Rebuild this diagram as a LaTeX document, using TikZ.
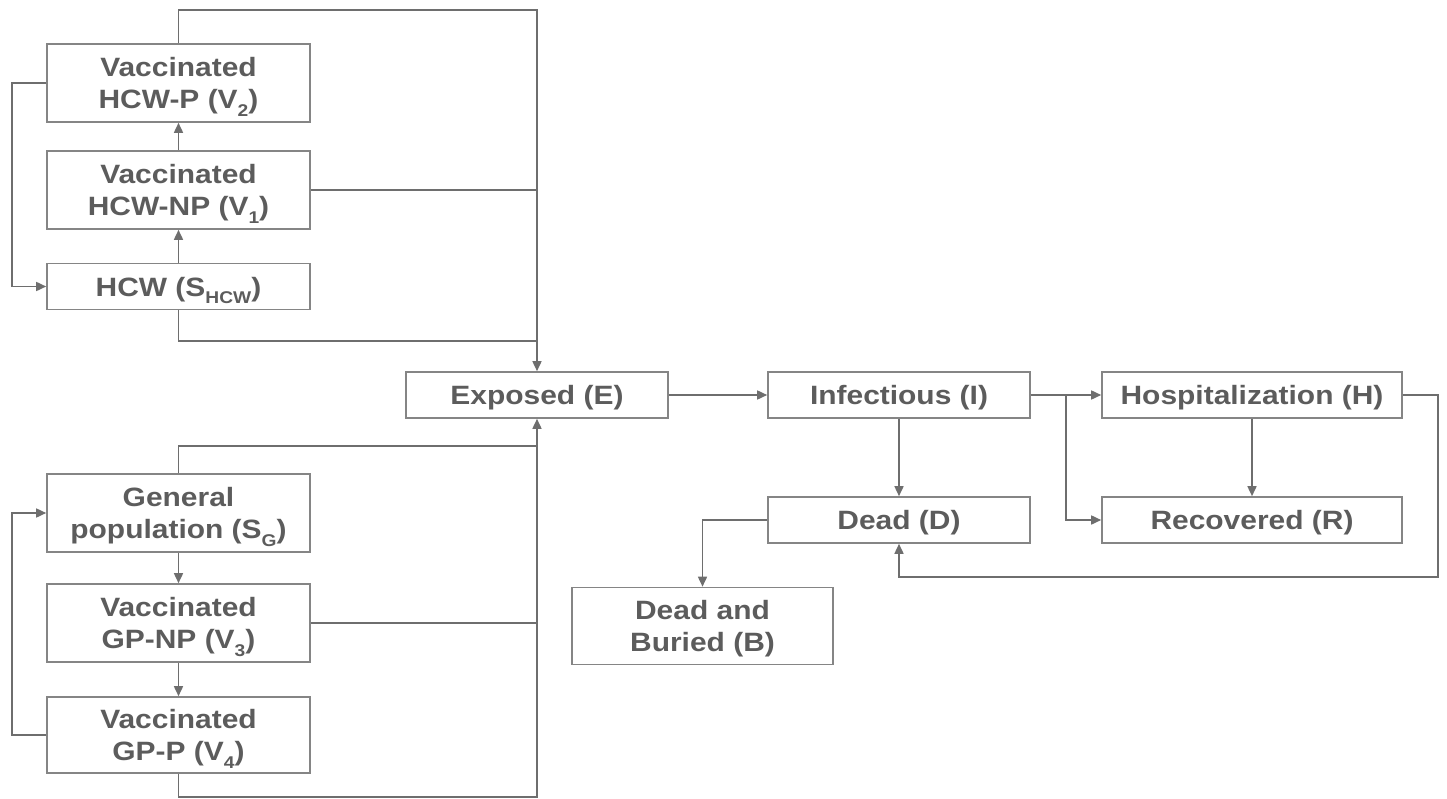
\documentclass[tikz,border=0pt]{standalone}
\usepackage{fontspec}
\setmainfont{Liberation Sans}[FakeStretch=1.13]
\usetikzlibrary{arrows.meta}
\definecolor{ln}{HTML}{6E6E6E}
\definecolor{bx}{HTML}{858585}
\definecolor{tx}{HTML}{5C5C5C}
\newcommand\sbs[1]{\raisebox{-0.28em}{\fontsize{17}{17}\selectfont #1}}
\begin{document}
\begin{tikzpicture}[x=1pt,y=-1pt,
  box/.style={draw=bx,line width=1.6pt,rectangle,inner sep=0pt,align=center,
    text depth=0pt,text=tx,font=\fontsize{26.5}{32}\selectfont\bfseries},
  wbox/.style={box,minimum width=263pt},
  conn/.style={draw=ln,line width=1.6pt},
  arr/.style={conn,-{Triangle[length=10pt,width=9pt]}}]
\useasboundingbox (0,0) rectangle (1447,799);
% left top group
\node[wbox,minimum height=78pt] (V2) at (178.5,83) {Vaccinated\\HCW-P (V\sbs{2})};
\node[wbox,minimum height=78pt] (V1) at (178.5,190) {Vaccinated\\HCW-NP (V\sbs{1})};
\node[wbox,minimum height=46pt] (HCW) at (178.5,286.5) {HCW (S\sbs{HCW})};
% left bottom group
\node[wbox,minimum height=78pt] (SG) at (178.5,513) {General\\population (S\sbs{G})};
\node[wbox,minimum height=78pt] (V3) at (178.5,623) {Vaccinated\\GP-NP (V\sbs{3})};
\node[wbox,minimum height=76pt] (V4) at (178.5,735) {Vaccinated\\GP-P (V\sbs{4})};
% main chain
\node[box,minimum width=262pt,minimum height=46pt] (E) at (537,395) {Exposed (E)};
\node[box,minimum width=262pt,minimum height=46pt] (I) at (899,395) {Infectious (I)};
\node[box,minimum width=300pt,minimum height=46pt] (H) at (1252,395) {Hospitalization (H)};
\node[box,minimum width=300pt,minimum height=46pt] (R) at (1252,520) {Recovered (R)};
\node[box,minimum width=262pt,minimum height=46pt] (D) at (899,520) {Dead (D)};
\node[box,minimum width=261pt,minimum height=77pt] (B) at (702.5,626) {Dead and\\Buried (B)};
% coordinates
\coordinate (t1) at (537,10);
\coordinate (j1) at (537,341);
\coordinate (j2) at (537,446);
\coordinate (b1) at (537,797);
\coordinate (l1) at (12,83);
\coordinate (l2) at (12,735);
\coordinate (br) at (1066,395);
\coordinate (rr) at (1438,577);
% top group connectors
\draw[arr] (HCW.north) -- (V1.south);
\draw[arr] (V1.north) -- (V2.south);
\draw[arr] (V2.west) -- (l1) |- (HCW.west);
\draw[arr] (V2.north) |- (t1) -- (E.north);
\draw[conn] (V1.east) -- (V1.east -| t1);
\draw[conn] (HCW.south) |- (j1);
% bottom group connectors
\draw[arr] (SG.south) -- (V3.north);
\draw[arr] (V3.south) -- (V4.north);
\draw[arr] (V4.west) -- (l2) |- (SG.west);
\draw[arr] (SG.north) |- (j2) -- (E.south);
\draw[conn] (V3.east) -- (V3.east -| j2);
\draw[conn] (V4.south) |- (b1) -- (j2);
% right part
\draw[arr] (E.east) -- (I.west);
\draw[arr] (I.east) -- (H.west);
\draw[arr] (br) |- (R.west);
\draw[arr] (I.south) -- (D.north);
\draw[arr] (H.south) -- (R.north);
\draw[arr] (H.east) -| (rr) -| (D.south);
\draw[arr] (D.west) -| (B.north);
\end{tikzpicture}
\end{document}
